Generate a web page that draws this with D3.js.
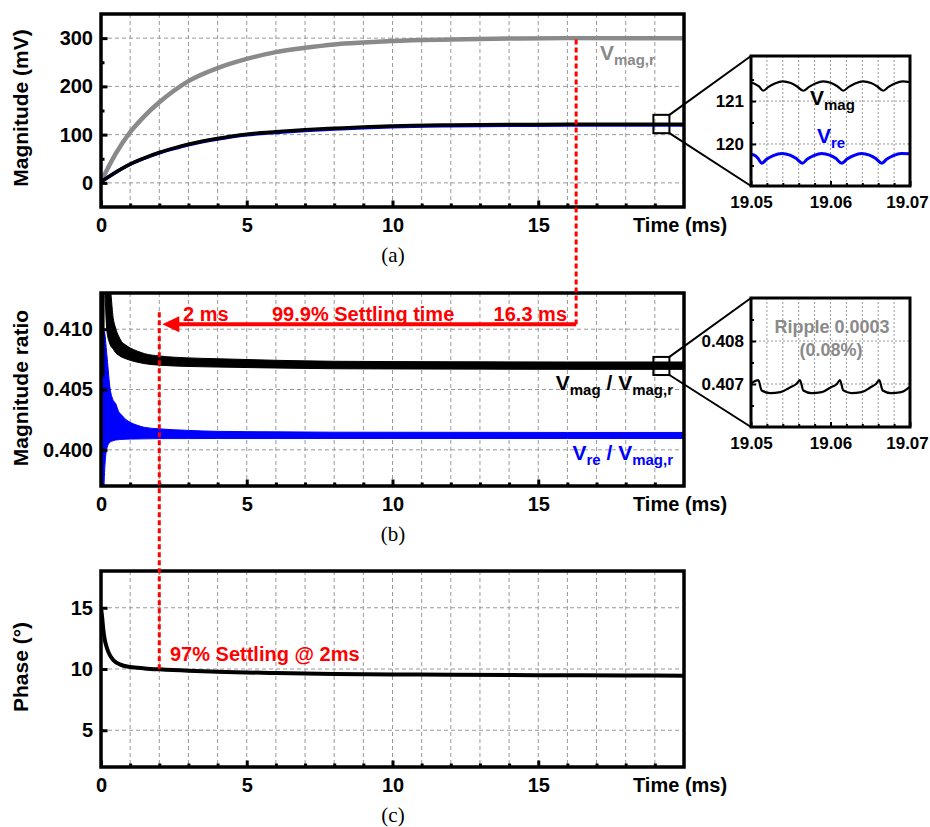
<!DOCTYPE html>
<html>
<head>
<meta charset="utf-8">
<script src="https://d3js.org/d3.v7.min.js"></script>
<style>
  body { margin: 0; background: #fff; }
  svg text { font-family: "Liberation Sans", Arial, sans-serif; font-weight: bold; }
  svg text.cap { font-family: "Liberation Serif", "Times New Roman", serif; font-weight: normal; }
  .grid line { stroke: #999; stroke-width: 1; stroke-dasharray: 4,3; }
  .igrid line { stroke: #999; stroke-width: 1; stroke-dasharray: 2,2; }
</style>
</head>
<body>
<script>
// ---------- data ----------
// (a) magnitudes, mV
const timeA   = [0, 0.5, 1, 1.5, 2, 2.5, 3, 4, 5, 6, 7, 8, 9, 10, 12, 14, 16, 20];
const vmagRef = [2, 60, 105, 139, 167, 191, 211, 238, 257, 271, 280, 287, 291, 294, 297, 299, 300, 300];
const vmag    = [2, 22, 39, 52, 63, 72, 80, 92, 101, 106, 110, 113, 116, 118, 120, 121, 121.3, 121.3];
const vre     = [2, 21.5, 38.5, 51.3, 62.2, 71, 79, 90.8, 99.6, 104.6, 108.5, 111.5, 114.4, 116.4, 118.4, 119.4, 119.7, 119.7];

// (b) magnitude ratio envelopes (ripple band)
const timeB = [0, 0.1, 0.11, 0.2, 0.3, 0.42, 0.5, 0.6, 0.7, 0.85, 1.0, 1.25, 1.5, 2, 2.5, 3, 4, 6, 8, 12, 16, 20];
const magHi = [0.4135, 0.4135, 0.4135, 0.4135, 0.4135, 0.41089, 0.4101, 0.40945, 0.4090, 0.40868, 0.40845, 0.40818, 0.40797, 0.40778, 0.40768, 0.40762, 0.40755, 0.40742, 0.40734, 0.4073, 0.40728, 0.40728];
const magLo = [0.4061, 0.4061, 0.4135, 0.4099, 0.4088, 0.40835, 0.40805, 0.40785, 0.4077, 0.40755, 0.40742, 0.40726, 0.40714, 0.40702, 0.40695, 0.40691, 0.40686, 0.40678, 0.40672, 0.40669, 0.40667, 0.40667];
const reHi  = [0.4058, 0.4098, 0.4098, 0.4079, 0.4053, 0.4041, 0.40385, 0.4032, 0.4029, 0.40252, 0.40228, 0.40203, 0.40186, 0.40174, 0.40166, 0.40161, 0.40153, 0.40149, 0.40146, 0.40145, 0.40144, 0.40144];
const reLo  = [0.3965, 0.3965, 0.3975, 0.4001, 0.40061, 0.40075, 0.40081, 0.40084, 0.40086, 0.40088, 0.40089, 0.4009, 0.40091, 0.40093, 0.40093, 0.40093, 0.40094, 0.40094, 0.40094, 0.40094, 0.40094, 0.40094];

// (c) phase, degrees
const timeC = [0, 0.04, 0.08, 0.12, 0.18, 0.25, 0.42, 0.65, 1, 1.5, 2, 3, 4, 5, 6, 8, 10, 12, 15, 18, 20];
const phase = [15.0, 14.2, 13.2, 12.5, 11.9, 11.4, 10.74, 10.38, 10.16, 10.05, 9.97, 9.85, 9.77, 9.72, 9.67, 9.6, 9.56, 9.53, 9.5, 9.47, 9.45];

// zoom insets (time in ms)
const insetTimeMag = [19.0500, 19.0505, 19.0510, 19.05155, 19.0522, 19.0530, 19.0540, 19.0550, 19.0558, 19.05658, 19.0573, 19.0581, 19.0591, 19.0601, 19.0609, 19.06161, 19.0623, 19.0631, 19.0641, 19.0651, 19.0659, 19.06664, 19.0673, 19.0681, 19.0691, 19.0700];
const insetVmag    = [121.43, 121.40, 121.34, 121.24, 121.33, 121.41, 121.46, 121.42, 121.34, 121.24, 121.33, 121.41, 121.46, 121.42, 121.34, 121.24, 121.33, 121.41, 121.46, 121.42, 121.34, 121.24, 121.33, 121.41, 121.46, 121.44];
const insetTimeRe  = [19.0500, 19.0505, 19.0509, 19.05134, 19.0520, 19.0528, 19.0539, 19.0549, 19.0557, 19.05646, 19.0571, 19.0579, 19.0589, 19.0599, 19.0607, 19.06141, 19.0621, 19.0629, 19.0639, 19.0649, 19.0657, 19.06644, 19.0671, 19.0679, 19.0689, 19.0700];
const insetVre     = [119.76, 119.73, 119.66, 119.55, 119.65, 119.73, 119.78, 119.74, 119.66, 119.55, 119.65, 119.73, 119.78, 119.74, 119.66, 119.55, 119.65, 119.73, 119.78, 119.74, 119.66, 119.55, 119.65, 119.73, 119.78, 119.77];
const insetTimeRatio = [19.0500, 19.05092, 19.05134, 19.0524, 19.0537, 19.0549, 19.0557, 19.05616, 19.05658, 19.0576, 19.0589, 19.0600, 19.0608, 19.06119, 19.06161, 19.0626, 19.0639, 19.0650, 19.0657, 19.06614, 19.06656, 19.0676, 19.0689, 19.0700];
const insetRatio     = [0.40701, 0.40709, 0.40685, 0.40679, 0.40681, 0.40692, 0.40700, 0.40709, 0.40685, 0.40679, 0.40681, 0.40692, 0.40700, 0.40709, 0.40685, 0.40679, 0.40681, 0.40692, 0.40700, 0.40709, 0.40685, 0.40679, 0.40681, 0.40694];

// ticks
const xMajor = [0, 5, 10, 15];
const xMinor = [1, 2, 3, 4, 6, 7, 8, 9, 11, 12, 13, 14, 16, 17, 18, 19];
const xGrid  = [1, 2, 3, 4, 5, 6, 7, 8, 9, 10, 11, 12, 13, 14, 15, 16, 17, 18, 19];
const yMajorA = [0, 100, 200, 300], yMinorA = [50, 150, 250];
const yMajorB = [0.400, 0.405, 0.410], yMinorB = [];
const yMajorC = [5, 10, 15], yMinorC = [];
const insetXMajor = [19.05, 19.06, 19.07];
const insetXMinor = [19.052, 19.054, 19.056, 19.058, 19.062, 19.064, 19.066, 19.068];
const insetXGrid  = [19.052, 19.054, 19.056, 19.058, 19.06, 19.062, 19.064, 19.066, 19.068];
const insetYMajorA = [120, 121], insetYMinorA = [119.5, 120.5, 121.5];
const insetYMajorB = [0.407, 0.408], insetYMinorB = [0.4065, 0.4075, 0.4085];

// ---------- drawing ----------
const RED = "#ff0000", GRAY = "#8a8a8a", BLUE = "#0000ff";
const svg = d3.select("body").append("svg").attr("width", 930).attr("height", 827);
svg.append("rect").attr("width", 930).attr("height", 827).attr("fill", "#fff");

const x = d3.scaleLinear().domain([0, 20]).range([101, 684]);

function panel(top, bottom, yDom, yMajor, yMinor, fmt) {
  const y = d3.scaleLinear().domain(yDom).range([bottom, top]);
  const id = "clip" + top;
  svg.append("clipPath").attr("id", id).append("rect")
    .attr("x", 101).attr("y", top).attr("width", 583).attr("height", bottom - top);
  const grid = svg.append("g").attr("class", "grid");
  grid.selectAll(".v").data(xGrid).join("line").attr("class", "v")
    .attr("x1", d => x(d)).attr("x2", d => x(d)).attr("y1", top).attr("y2", bottom);
  grid.selectAll(".h").data(yMajor).join("line").attr("class", "h")
    .attr("x1", 101).attr("x2", 684).attr("y1", d => y(d)).attr("y2", d => y(d));
  const plot = svg.append("g").attr("clip-path", `url(#${id})`);
  const axes = svg.append("g");
  return {y, plot, axes, top, bottom, fmt, yMajor, yMinor};
}

function finish(p) {
  const {y, axes, top, bottom, fmt, yMajor, yMinor} = p;
  const xa = axes.append("g").attr("transform", `translate(0,${bottom})`)
    .call(d3.axisBottom(x).tickValues(xMajor).tickSize(-6.5).tickPadding(11).tickFormat(d3.format("d")));
  const xm = axes.append("g").attr("transform", `translate(0,${bottom})`)
    .call(d3.axisBottom(x).tickValues(xMinor).tickSize(-3.5).tickFormat(() => ""));
  const ya = axes.append("g").attr("transform", "translate(101,0)")
    .call(d3.axisLeft(y).tickValues(yMajor).tickSize(-6.5).tickPadding(8).tickFormat(fmt));
  const ym = axes.append("g").attr("transform", "translate(101,0)")
    .call(d3.axisLeft(y).tickValues(yMinor).tickSize(-3.5).tickFormat(() => ""));
  [xa, xm, ya, ym].forEach(a => {
    a.select(".domain").remove();
    a.attr("font-size", 20);
    a.selectAll("line").attr("stroke", "#000").attr("stroke-width", 3);
    a.selectAll("text").attr("fill", "#000");
  });
  axes.append("rect").attr("x", 101).attr("y", top).attr("width", 583).attr("height", bottom - top)
    .attr("fill", "none").attr("stroke", "#000").attr("stroke-width", 3.5);
  axes.append("text").attr("x", 633).attr("y", bottom + 25).attr("font-size", 20).text("Time (ms)");
}

function yTitle(txt, cy) {
  svg.append("text").attr("transform", `translate(28,${cy}) rotate(-90)`)
    .attr("text-anchor", "middle").attr("font-size", 21).text(txt);
}

function caption(txt, base) {
  svg.append("text").attr("class", "cap").attr("x", 393).attr("y", base)
    .attr("text-anchor", "middle").attr("font-size", 21).text(txt);
}

// label made of [text, isSub] parts
function subLabel(g, px, py, parts, color, size, subSize, anchor) {
  const t = g.append("text").attr("x", px).attr("y", py).attr("fill", color)
    .attr("font-size", size).attr("text-anchor", anchor || "start");
  let down = false;
  parts.forEach(([s, sub]) => {
    const dy = sub && !down ? 5 : (!sub && down ? -5 : 0);
    down = sub;
    t.append("tspan").attr("dy", dy).attr("font-size", sub ? subSize : size).text(s);
  });
  return t;
}

// ----- panel (a) -----
const pa = panel(14, 207, [-50, 350], yMajorA, yMinorA, d3.format("d"));
const lineA = d3.line().x(d => x(d[0])).y(d => pa.y(d[1])).curve(d3.curveMonotoneX);
pa.plot.append("path").datum(d3.zip(timeA, vmagRef)).attr("d", lineA)
  .attr("fill", "none").attr("stroke", GRAY).attr("stroke-width", 4.5);
pa.plot.append("path").datum(d3.zip(timeA, vre)).attr("d", lineA)
  .attr("fill", "none").attr("stroke", BLUE).attr("stroke-width", 3.5);
pa.plot.append("path").datum(d3.zip(timeA, vmag)).attr("d", lineA)
  .attr("fill", "none").attr("stroke", "#000").attr("stroke-width", 3.5);
finish(pa);
yTitle("Magnitude (mV)", 108);
caption("(a)", 262);
subLabel(svg, 600, 60, [["V", false], ["mag,r", true]], GRAY, 21, 15);

// ----- panel (b) -----
const pb = panel(293, 486, [0.397, 0.413], yMajorB, yMinorB, d3.format(".3f"));
const band = d3.area().x(d => x(d[0])).y0(d => pb.y(d[1])).y1(d => pb.y(d[2])).curve(d3.curveMonotoneX);
pb.plot.append("path").datum(d3.zip(timeB, reLo, reHi)).attr("d", band)
  .attr("fill", BLUE).attr("stroke", BLUE).attr("stroke-width", 1);
pb.plot.append("path").datum(d3.zip(timeB, magLo, magHi)).attr("d", band)
  .attr("fill", "#000").attr("stroke", "#000").attr("stroke-width", 1);
finish(pb);
yTitle("Magnitude ratio", 388);
caption("(b)", 541);
subLabel(svg, 673, 390, [["V", false], ["mag", true], [" / V", false], ["mag,r", true]], "#000", 21, 15, "end");
subLabel(svg, 673, 460, [["V", false], ["re", true], [" / V", false], ["mag,r", true]], BLUE, 21, 15, "end");

// ----- panel (c) -----
const pc = panel(571, 767, [2, 18], yMajorC, yMinorC, d3.format("d"));
const lineC = d3.line().x(d => x(d[0])).y(d => pc.y(d[1])).curve(d3.curveMonotoneX);
pc.plot.append("path").datum(d3.zip(timeC, phase)).attr("d", lineC)
  .attr("fill", "none").attr("stroke", "#000").attr("stroke-width", 4);
finish(pc);
yTitle("Phase (°)", 667);
caption("(c)", 822);

// ----- zoom insets -----
const xi = d3.scaleLinear().domain([19.05, 19.07]).range([751, 910]);
function inset(top, bottom, yDom, yMajor, yMinor, fmt) {
  const y = d3.scaleLinear().domain(yDom).range([bottom, top]);
  const grid = svg.append("g").attr("class", "igrid");
  grid.selectAll(".v").data(insetXGrid).join("line").attr("class", "v")
    .attr("x1", d => xi(d)).attr("x2", d => xi(d)).attr("y1", top).attr("y2", bottom);
  grid.selectAll(".h").data(yMajor).join("line").attr("class", "h")
    .attr("x1", 751).attr("x2", 910).attr("y1", d => y(d)).attr("y2", d => y(d));
  const id = "iclip" + top;
  svg.append("clipPath").attr("id", id).append("rect")
    .attr("x", 751).attr("y", top).attr("width", 159).attr("height", bottom - top);
  const plot = svg.append("g").attr("clip-path", `url(#${id})`);
  const axes = svg.append("g");
  const draw = () => {
    const a1 = axes.append("g").attr("transform", `translate(0,${bottom})`)
      .call(d3.axisBottom(xi).tickValues(insetXMajor).tickSize(-5).tickPadding(10).tickFormat(d3.format(".2f")));
    const a2 = axes.append("g").attr("transform", `translate(0,${bottom})`)
      .call(d3.axisBottom(xi).tickValues(insetXMinor).tickSize(-3).tickFormat(() => ""));
    const a3 = axes.append("g").attr("transform", "translate(751,0)")
      .call(d3.axisLeft(y).tickValues(yMajor).tickSize(-5).tickPadding(7).tickFormat(fmt));
    const a4 = axes.append("g").attr("transform", "translate(751,0)")
      .call(d3.axisLeft(y).tickValues(yMinor).tickSize(-3).tickFormat(() => ""));
    [a1, a2, a3, a4].forEach(a => {
      a.select(".domain").remove();
      a.attr("font-size", 17);
      a.selectAll("line").attr("stroke", "#000").attr("stroke-width", 2);
      a.selectAll("text").attr("fill", "#000");
    });
    // last time label sits slightly inside the page edge
    a1.selectAll("text").filter(d => d === 19.07).attr("dx", -3);
    axes.append("rect").attr("x", 751).attr("y", top).attr("width", 159).attr("height", bottom - top)
      .attr("fill", "none").attr("stroke", "#000").attr("stroke-width", 3);
  };
  return {y, plot, axes, draw, top, bottom};
}

const lineI = (ys) => d3.line().x(d => xi(d[0])).y(d => ys(d[1])).curve(d3.curveMonotoneX);

const ia = inset(56, 186, [119.02, 122.05], insetYMajorA, insetYMinorA, d3.format("d"));
ia.plot.append("path").datum(d3.zip(insetTimeMag, insetVmag)).attr("d", lineI(ia.y))
  .attr("fill", "none").attr("stroke", "#000").attr("stroke-width", 2.2);
ia.plot.append("path").datum(d3.zip(insetTimeRe, insetVre)).attr("d", lineI(ia.y))
  .attr("fill", "none").attr("stroke", BLUE).attr("stroke-width", 3);
ia.draw();
subLabel(svg, 810, 105, [["V", false], ["mag", true]], "#000", 21, 15);
subLabel(svg, 817, 143, [["V", false], ["re", true]], BLUE, 21, 15);

const ib = inset(298, 427, [0.406, 0.409], insetYMajorB, insetYMinorB, d3.format(".3f"));
ib.plot.append("path").datum(d3.zip(insetTimeRatio, insetRatio)).attr("d", lineI(ib.y))
  .attr("fill", "none").attr("stroke", "#000").attr("stroke-width", 2.2);
ib.draw();
svg.append("text").attr("x", 832).attr("y", 333).attr("text-anchor", "middle")
  .attr("font-size", 18).attr("fill", GRAY).text("Ripple 0.0003");
svg.append("text").attr("x", 831).attr("y", 356).attr("text-anchor", "middle")
  .attr("font-size", 18).attr("fill", GRAY).text("(0.08%)");

// zoom markers and connectors
function zoomBox(p, v0, v1, inTop, inBottom) {
  const x0 = x(18.95), x1 = x(19.5), y0 = p.y(v1), y1 = p.y(v0);
  svg.append("rect").attr("x", x0).attr("y", y0).attr("width", x1 - x0).attr("height", y1 - y0)
    .attr("fill", "none").attr("stroke", "#000").attr("stroke-width", 2);
  svg.append("line").attr("x1", x1).attr("y1", y0).attr("x2", 751).attr("y2", inTop)
    .attr("stroke", "#000").attr("stroke-width", 2);
  svg.append("line").attr("x1", x1).attr("y1", y1).attr("x2", 751).attr("y2", inBottom)
    .attr("stroke", "#000").attr("stroke-width", 2);
}
zoomBox(pa, 103, 141, 56, 186);
zoomBox(pb, 0.4062, 0.4077, 298, 427);

// ----- settling-time annotations -----
const ann = svg.append("g");
const arrowY = pb.y(0.4104);
ann.append("line").attr("x1", x(16.3)).attr("x2", x(16.3)).attr("y1", pa.y(297)).attr("y2", arrowY)
  .attr("stroke", RED).attr("stroke-width", 3).attr("stroke-dasharray", "5,3");
ann.append("line").attr("x1", x(2)).attr("x2", x(2)).attr("y1", pb.y(0.4114)).attr("y2", pc.y(9.97))
  .attr("stroke", RED).attr("stroke-width", 3).attr("stroke-dasharray", "5,3");
const tip = x(2) + 3;
ann.append("line").attr("x1", x(16.3)).attr("x2", tip + 14).attr("y1", arrowY).attr("y2", arrowY)
  .attr("stroke", RED).attr("stroke-width", 4);
ann.append("path").attr("d", `M${tip},${arrowY} L${tip + 17},${arrowY - 8} L${tip + 17},${arrowY + 8} Z`)
  .attr("fill", RED);
ann.append("text").attr("x", 183).attr("y", 321).attr("font-size", 20).attr("fill", RED).text("2 ms");
ann.append("text").attr("x", 272).attr("y", 321).attr("font-size", 20).attr("fill", RED).text("99.9% Settling time");
ann.append("text").attr("x", 567).attr("y", 321).attr("font-size", 20).attr("fill", RED)
  .attr("text-anchor", "end").text("16.3 ms");
ann.append("text").attr("x", 170).attr("y", 661).attr("font-size", 20).attr("fill", RED).text("97% Settling @ 2ms");
</script>
</body>
</html>
